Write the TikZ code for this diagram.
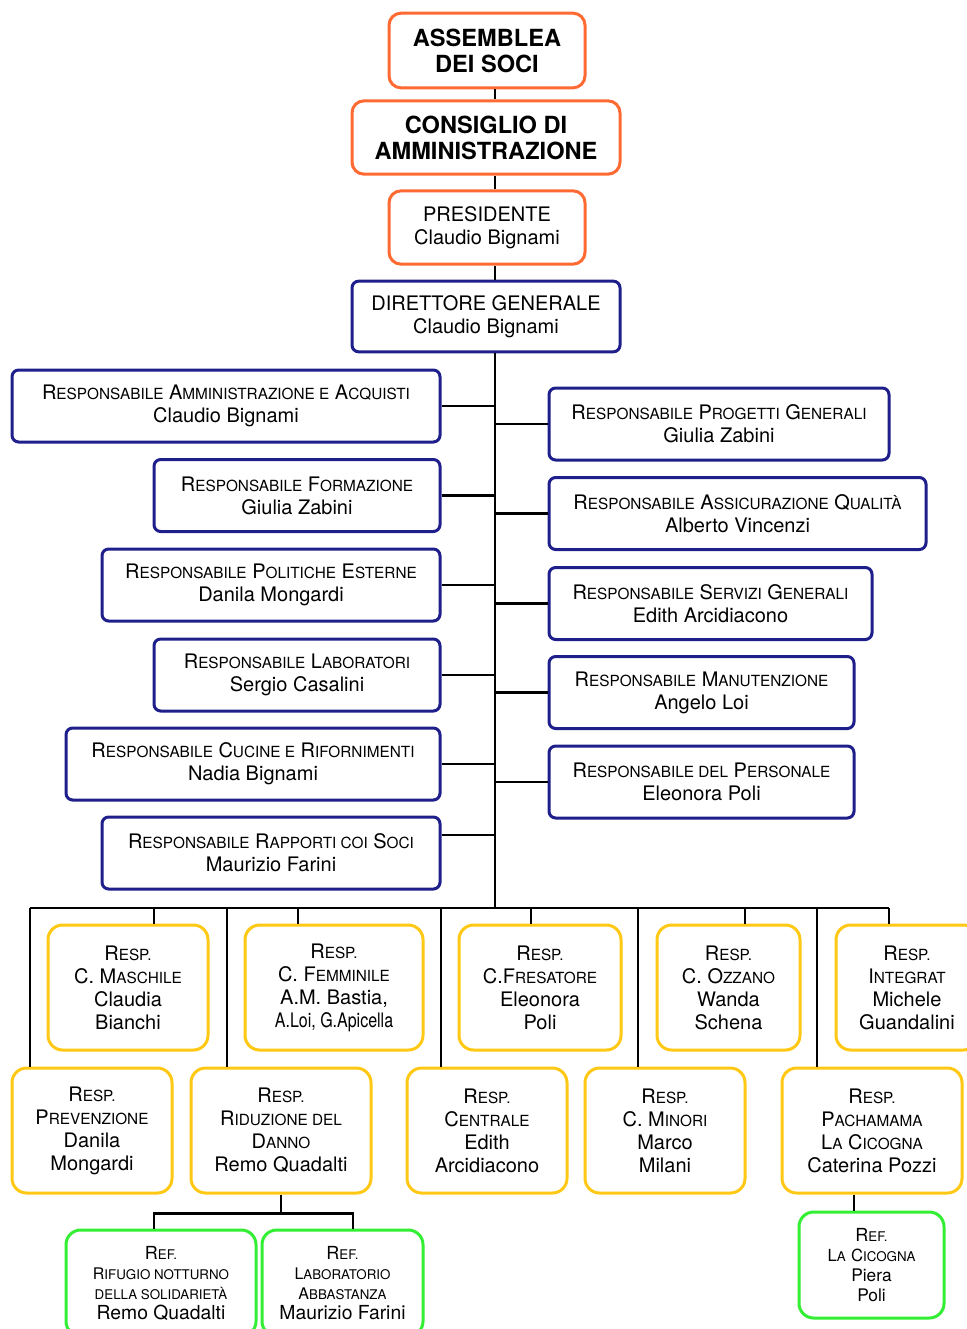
\documentclass[tikz,border=0pt]{standalone}
\usepackage{fontspec}
\setmainfont{TeX Gyre Heros}
\usepackage{xcolor}
\definecolor{cTop}{HTML}{FF6A33}
\definecolor{cMain}{HTML}{1F1F8C}
\definecolor{cUnit}{HTML}{FFC814}
\definecolor{cRef}{HTML}{33EE33}
\usetikzlibrary{positioning}
% small caps by hand: lower part set upright in capitals, smaller
\newcommand\lsc[2][11.5]{{\fontsize{#1}{#1}\selectfont\MakeUppercase{#2}}}
\newcommand\capc[2][13.5]{{\fontsize{#1}{#1}\selectfont #2}}
\tikzset{
  node-top/.style={draw=cTop,line width=2.25pt,rounded corners=9pt,inner sep=0pt,
    align=center,font=\fontsize{17.7}{19.5}\selectfont\bfseries},
  node-pres/.style={draw=cTop,line width=2.25pt,rounded corners=9pt,inner sep=0pt,
    align=center,font=\fontsize{15}{17.25}\selectfont},
  node-resp/.style={draw=cMain,line width=2.25pt,rounded corners=5pt,inner sep=0pt,
    minimum height=54pt,align=center,font=\fontsize{15}{17.25}\selectfont},
  node-unit/.style={draw=cUnit,line width=2.25pt,rounded corners=11pt,inner sep=0pt,
    minimum height=93.75pt,align=center,font=\fontsize{15}{17.25}\selectfont},
  node-ref/.style={draw=cRef,line width=2.25pt,rounded corners=11pt,inner sep=0pt,
    minimum height=79.5pt,align=center,font=\fontsize{14.5}{15}\selectfont},
  link/.style={line width=2pt,draw=black},
}
\begin{document}
\begin{tikzpicture}[x=0.75pt,y=-0.75pt]
  \useasboundingbox (0,0) rectangle (967,1329);
  % vertical line of the chart
  \coordinate (spine) at (495,0);
  \coordinate (bus-l) at (30,908);
  \coordinate (bus-r) at (889,908);
  \coordinate (bus-m) at (495,908);

  \node[node-top,minimum width=147pt,minimum height=56pt] (ass) at (487,50.5) {ASSEMBLEA\\DEI SOCI};
  \node[node-top,minimum width=201pt,minimum height=55pt] (cda) at (486,137.5) {CONSIGLIO DI\\AMMINISTRAZIONE};
  \node[node-pres,minimum width=147pt,minimum height=55pt] (pres) at (487,227.5) {PRESIDENTE\\Claudio Bignami};
  \node[node-resp,minimum width=201pt,minimum height=53pt] (dg) at (486,316.5) {DIRETTORE GENERALE\\Claudio Bignami};

  % responsabili a sinistra
  \node[node-resp,minimum width=321pt] (amm) at (226,406) {R\lsc{esponsabile} A\lsc{mministrazione e} A\lsc{cquisti}\\Claudio Bignami};
  \node[node-resp,minimum width=214.5pt] (form) at (297,495.5) {R\lsc{esponsabile} F\lsc{ormazione}\\Giulia Zabini};
  \node[node-resp,minimum width=253.5pt] (pol) at (271,585) {R\lsc{esponsabile} P\lsc{olitiche} E\lsc{sterne}\\Danila Mongardi};
  \node[node-resp,minimum width=214.5pt] (lab) at (297,675) {R\lsc{esponsabile} L\lsc{aboratori}\\Sergio Casalini};
  \node[node-resp,minimum width=280.5pt] (cuc) at (253,764) {R\lsc{esponsabile} C\lsc{ucine e} R\lsc{ifornimenti}\\Nadia Bignami};
  \node[node-resp,minimum width=253.5pt] (rapp) at (271,853) {R\lsc{esponsabile} R\lsc{apporti coi} S\lsc{oci}\\Maurizio Farini};
  % responsabili a destra
  \node[node-resp,minimum width=255pt] (prog) at (719,424) {R\lsc{esponsabile} P\lsc{rogetti} G\lsc{enerali}\\Giulia Zabini};
  \node[node-resp,minimum width=282.75pt] (qual) at (737.5,513.5) {R\lsc{esponsabile} A\lsc{ssicurazione} Q\lsc{ualità}\\Alberto Vincenzi};
  \node[node-resp,minimum width=242.25pt] (serv) at (710.5,603.5) {R\lsc{esponsabile} S\lsc{ervizi} G\lsc{enerali}\\Edith Arcidiacono};
  \node[node-resp,minimum width=228.75pt] (man) at (701.5,692.5) {R\lsc{esponsabile} M\lsc{anutenzione}\\Angelo Loi};
  \node[node-resp,minimum width=228.75pt] (pers) at (701.5,782) {R\lsc{esponsabile del} P\lsc{ersonale}\\Eleonora Poli};

  % centri, prima fila
  \node[node-unit,minimum width=120pt] (masc) at (128,987.5) {R\lsc{esp.}\\C. M\lsc{aschile}\\Claudia\\Bianchi};
  \node[node-unit,minimum width=133.5pt] (femm) at (334,987.5) {R\lsc{esp.}\\C. F\lsc{emminile}\\A.M. Bastia,\\\scalebox{0.8}[1]{A.Loi, G.Apicella}};
  \node[node-unit,minimum width=121.5pt] (fres) at (540,987.5) {R\lsc{esp.}\\C.F\lsc{resatore}\\Eleonora\\Poli};
  \node[node-unit,minimum width=107.25pt] (ozz) at (728.5,987.5) {R\lsc{esp.}\\C. O\lsc{zzano}\\Wanda\\Schena};
  \node[node-unit,minimum width=106.5pt] (integ) at (907,987.5) {R\lsc{esp.}\\I\lsc{ntegrat}\\Michele\\Guandalini};
  % centri, seconda fila
  \node[node-unit,minimum width=120pt] (prev) at (92,1130.5) {R\lsc{esp.}\\P\lsc{revenzione}\\Danila\\Mongardi};
  \node[node-unit,minimum width=135pt] (rid) at (281,1130.5) {R\lsc{esp.}\\R\lsc{iduzione del}\\D\lsc{anno}\\Remo Quadalti};
  \node[node-unit,minimum width=120pt] (centr) at (487,1130.5) {R\lsc{esp.}\\C\lsc{entrale}\\Edith\\Arcidiacono};
  \node[node-unit,minimum width=120pt] (min) at (665,1130.5) {R\lsc{esp.}\\C. M\lsc{inori}\\Marco\\Milani};
  \node[node-unit,minimum width=135pt] (pach) at (872,1130.5) {R\lsc{esp.}\\P\lsc{achamama}\\L\lsc{a} C\lsc{icogna}\\Caterina Pozzi};

  % referenti
  \node[node-ref,minimum width=142.5pt] (rif) at (161,1283) {\capc{R}\lsc[10]{ef.}\\\capc[12]{R}\lsc[10]{ifugio notturno}\\\lsc[10]{della solidarietà}\\Remo Quadalti};
  \node[node-ref,minimum width=120.75pt] (abb) at (342.5,1283) {\capc{R}\lsc[10]{ef.}\\\capc[12]{L}\lsc[10]{aboratorio}\\\capc[12]{A}\lsc[10]{bbastanza}\\Maurizio Farini};
  \node[node-ref,minimum width=108.75pt] (cic) at (871.5,1265) {\capc{R}\lsc[10]{ef.}\\\capc[12.5]{L}\lsc[10]{a} \capc[12.5]{C}\lsc[10]{icogna}\\\capc[13]{Piera}\\\capc[13]{Poli}};

  % connettori
  \draw[link] (ass.south -| spine) -- (cda.north -| spine);
  \draw[link] (cda.south -| spine) -- (pres.north -| spine);
  \draw[link] (pres.south -| spine) -- (dg.north -| spine);
  \draw[link] (dg.south -| spine) -- (bus-m);
  \foreach \n in {amm,form,pol,lab,cuc}
    \draw[link] (\n.east) -- (\n.east -| spine);
  \draw[link] ([yshift=13.5pt]rapp.east) -- ([yshift=13.5pt]rapp.east -| spine);
  \foreach \n in {prog,qual,serv,man,pers}
    \draw[link] (\n.west) -- (\n.west -| spine);
  \draw[link] (bus-l) -- (bus-r);
  \foreach \n/\dx in {masc/19.5,femm/-27,fres/-6.75,ozz/12.4,integ/-13.5,
                      prev/-46.5,rid/-40.5,centr/-34.5,min/-20.25,pach/-41.25}
    \draw[link] ([xshift=\dx pt]\n.north) -- ([xshift=\dx pt]\n.north |- bus-l);
  \path (rid.south) ++(0,19) coordinate (rid-split);
  \draw[link] (rid.south) -- (rid-split);
  \draw[link] ([xshift=-5.25pt]rif.north) |- (rid-split) -| ([xshift=7.9pt]abb.north);
  \draw[link] ([xshift=-13.5pt]pach.south) -- ([xshift=-13.5pt]pach.south |- cic.north);
\end{tikzpicture}
\end{document}
